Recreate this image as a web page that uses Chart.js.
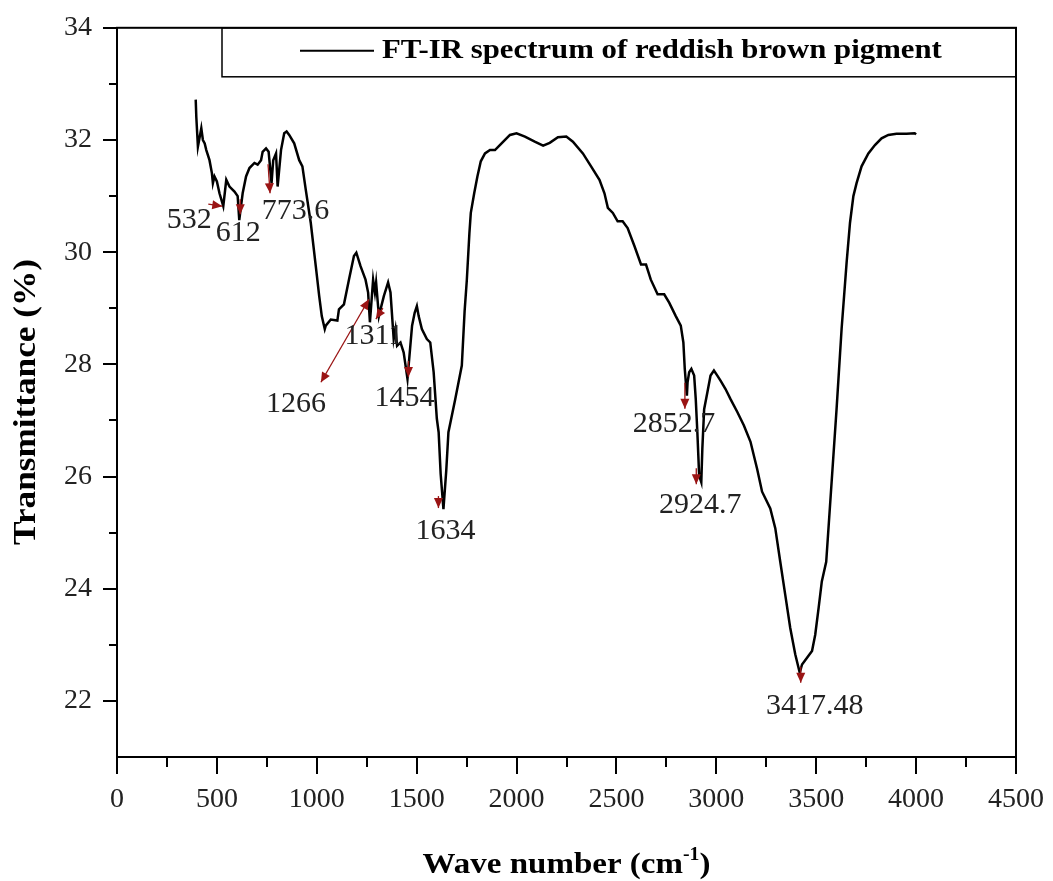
<!DOCTYPE html>
<html>
<head>
<meta charset="utf-8">
<title>FT-IR spectrum</title>
<script src="https://cdn.jsdelivr.net/npm/chart.js@4.4.1/dist/chart.umd.min.js"></script>
<style>
  html, body { margin: 0; padding: 0; background: #fff; }
  canvas { display: block; }
</style>
</head>
<body>
<canvas id="spectrum" width="1053" height="881"></canvas>
<script>
// Wave numbers (cm-1) of the recorded spectrum
const waveNumbers = [
  394, 397, 405, 422, 430, 439, 447, 463, 475, 480, 488, 500, 513, 532, 547, 563, 588, 604, 612, 629,
  646, 663, 688, 704, 721, 729, 746, 759, 773.6, 782, 796, 804, 821, 837, 849, 862, 887, 912, 928, 945,
  970, 995, 1012, 1025, 1040, 1045, 1070, 1103, 1111, 1136, 1161, 1186, 1198, 1219, 1244, 1257, 1266, 1282, 1291, 1297,
  1311, 1319, 1336, 1357, 1369, 1385, 1394, 1402, 1419, 1435, 1454, 1477, 1490, 1501, 1510, 1526, 1551, 1568, 1585, 1601,
  1610, 1620, 1634, 1648, 1659, 1693, 1726, 1740, 1751, 1764, 1771, 1788, 1804, 1821, 1842, 1867, 1892, 1925, 1967, 2000,
  2042, 2091, 2133, 2166, 2207, 2249, 2282, 2332, 2373, 2415, 2440, 2457, 2482, 2506, 2531, 2556, 2590, 2623, 2648, 2672,
  2706, 2739, 2764, 2797, 2822, 2835, 2842, 2852.7, 2856, 2864, 2875, 2889, 2897, 2905, 2914, 2924.7, 2930, 2939, 2955, 2971,
  2988, 3005, 3021, 3046, 3071, 3105, 3138, 3171, 3204, 3229, 3270, 3295, 3320, 3345, 3370, 3395, 3417.48, 3429, 3454, 3479,
  3495, 3512, 3528, 3550, 3602, 3627, 3652, 3669, 3686, 3702, 3727, 3761, 3794, 3827, 3861, 3902, 3952, 3993, 4000
];

// Transmittance (%) at each wave number
const transmittance = [
  32.72, 32.41, 31.88, 32.21, 32.00, 31.94, 31.82, 31.64, 31.41, 31.23, 31.35, 31.26, 31.05, 30.82, 31.29, 31.17, 31.08, 31.00, 30.57, 31.05,
  31.35, 31.50, 31.59, 31.56, 31.64, 31.79, 31.85, 31.79, 31.23, 31.64, 31.76, 31.17, 31.82, 32.12, 32.15, 32.09, 31.94, 31.64, 31.53, 31.11,
  30.52, 29.75, 29.22, 28.86, 28.63, 28.69, 28.80, 28.78, 28.98, 29.07, 29.51, 29.93, 29.99, 29.75, 29.51, 29.28, 28.75, 29.51, 29.28, 29.46,
  28.86, 28.98, 29.22, 29.46, 29.28, 28.45, 28.63, 28.33, 28.39, 28.21, 27.74, 28.69, 28.92, 29.04, 28.86, 28.63, 28.45, 28.39, 27.86, 27.03,
  26.79, 26.05, 25.42, 26.10, 26.79, 27.38, 27.98, 28.95, 29.50, 30.34, 30.70, 31.05, 31.35, 31.62, 31.76, 31.82, 31.82, 31.94, 32.09, 32.12,
  32.06, 31.97, 31.90, 31.95, 32.05, 32.06, 31.97, 31.76, 31.53, 31.29, 31.05, 30.79, 30.70, 30.55, 30.55, 30.43, 30.11, 29.78, 29.78, 29.51,
  29.25, 29.25, 29.10, 28.86, 28.69, 28.39, 27.92, 27.44, 27.68, 27.86, 27.92, 27.80, 27.38, 26.79, 26.02, 25.90, 26.50, 27.20, 27.50, 27.80,
  27.89, 27.80, 27.71, 27.56, 27.38, 27.15, 26.91, 26.62, 26.14, 25.73, 25.43, 25.08, 24.48, 23.89, 23.30, 22.83, 22.50, 22.65, 22.77, 22.89,
  23.18, 23.66, 24.13, 24.48, 27.21, 28.63, 29.81, 30.52, 31.00, 31.23, 31.53, 31.76, 31.91, 32.03, 32.09, 32.11, 32.11, 32.12, 32.10
];

// Labelled absorption bands
const peakWaveNumbers = [532, 612, 773.6, 1266, 1311, 1454, 1634, 2852.7, 2924.7, 3417.48];
const peakLabels = ['532', '612', '773.6', '1266', '1311', '1454', '1634', '2852.7', '2924.7', '3417.48'];

// Axis ticks
const xMajorTicks = [0, 500, 1000, 1500, 2000, 2500, 3000, 3500, 4000, 4500];
const xMinorTicks = [250, 750, 1250, 1750, 2250, 2750, 3250, 3750, 4250];
const yMajorTicks = [22, 24, 26, 28, 30, 32, 34];
const yMinorTicks = [23, 25, 27, 29, 31, 33];

const seriesName = 'FT-IR spectrum of reddish brown pigment';
const xTitle = 'Wave number (cm';
const xTitleSup = '-1';
const yTitle = 'Transmittance (%)';

// Callout placement for each band label, in pixels relative to the band point:
// text centre (dx, dy) and arrow segment [x1, y1, x2, y2]
const calloutLayout = [
  { dx: -34, dy: 14, arrow: [-15, -2, -1, 0], both: false },
  { dx: -1, dy: 13, arrow: [1, -21, 1, -6], both: false },
  { dx: 24, dy: 28, arrow: [-3.5, -19, -1.5, 10], both: false },
  { dx: -74, dy: 82, arrow: [-1, -23, -49, 60], both: true },
  { dx: -5, dy: 20, arrow: [4, -8, -3, 3], both: false },
  { dx: -3, dy: 19, arrow: [1, -18, 1, -2], both: false },
  { dx: 2, dy: 22, arrow: [-5, -13, -5, -1], both: false },
  { dx: -13, dy: 28, arrow: [-2, -13, -2, 13], both: false },
  { dx: -1, dy: 23, arrow: [-5, -14, -5, 2], both: false },
  { dx: 15, dy: 33, arrow: [1, -6, 1, 10], both: false }
];

const SERIF = '"Liberation Serif", "Times New Roman", serif';
const ARROW_RED = '#9a1414';

function drawHead(ctx, x1, y1, x2, y2, len, half) {
  const ang = Math.atan2(y2 - y1, x2 - x1);
  ctx.beginPath();
  ctx.moveTo(x2, y2);
  ctx.lineTo(x2 - len * Math.cos(ang) + half * Math.sin(ang), y2 - len * Math.sin(ang) - half * Math.cos(ang));
  ctx.lineTo(x2 - len * Math.cos(ang) - half * Math.sin(ang), y2 - len * Math.sin(ang) + half * Math.cos(ang));
  ctx.closePath();
  ctx.fill();
}

function stretchedText(ctx, text, x, y, sx) {
  ctx.save();
  ctx.translate(x, y);
  ctx.scale(sx, 1);
  ctx.fillText(text, 0, 0);
  ctx.restore();
}

const decorations = {
  id: 'decorations',
  afterDraw(chart) {
    const { ctx, chartArea: a } = chart;
    const xs = chart.scales.x, ys = chart.scales.y;
    ctx.save();

    // plot frame
    ctx.strokeStyle = '#000';
    ctx.lineWidth = 2;
    ctx.strokeRect(a.left, a.top, a.right - a.left, a.bottom - a.top);

    // minor ticks
    ctx.beginPath();
    for (const v of xMinorTicks) {
      const px = Math.round(xs.getPixelForValue(v));
      ctx.moveTo(px, a.bottom);
      ctx.lineTo(px, a.bottom + 10);
    }
    for (const v of yMinorTicks) {
      const py = Math.round(ys.getPixelForValue(v));
      ctx.moveTo(a.left, py);
      ctx.lineTo(a.left - 8, py);
    }
    ctx.stroke();

    // legend box
    const bx = a.left + 105, by = a.top, bw = a.right - bx, bh = 49;
    ctx.lineWidth = 1.5;
    ctx.strokeRect(bx, by, bw, bh);
    const ds = chart.data.datasets[0];
    ctx.strokeStyle = ds.borderColor;
    ctx.lineWidth = 2;
    ctx.beginPath();
    ctx.moveTo(bx + 78, by + 23);
    ctx.lineTo(bx + 152, by + 23);
    ctx.stroke();
    ctx.fillStyle = '#000';
    ctx.font = 'bold 28px ' + SERIF;
    ctx.textAlign = 'left';
    ctx.textBaseline = 'middle';
    stretchedText(ctx, ds.label, bx + 160, by + 23, 1.1);

    // axis titles
    ctx.font = 'bold 30px ' + SERIF;
    ctx.textBaseline = 'alphabetic';
    const sx = 1.1;
    const mainW = ctx.measureText(xTitle).width * sx;
    ctx.font = 'bold 18px ' + SERIF;
    const supW = ctx.measureText(xTitleSup).width * sx;
    ctx.font = 'bold 30px ' + SERIF;
    const closeW = ctx.measureText(')').width * sx;
    const total = mainW + supW + closeW;
    let tx = (a.left + a.right) / 2 - total / 2;
    const ty = 873;
    stretchedText(ctx, xTitle, tx, ty, sx);
    tx += mainW;
    ctx.font = 'bold 18px ' + SERIF;
    stretchedText(ctx, xTitleSup, tx, ty - 13, sx);
    tx += supW;
    ctx.font = 'bold 30px ' + SERIF;
    stretchedText(ctx, ')', tx, ty, sx);

    ctx.save();
    ctx.font = 'bold 32px ' + SERIF;
    ctx.translate(27, 402);
    ctx.rotate(-Math.PI / 2);
    ctx.textAlign = 'center';
    ctx.textBaseline = 'middle';
    stretchedText(ctx, yTitle, 0, 0, sx);
    ctx.restore();

    // band callouts
    ctx.font = '30px ' + SERIF;
    ctx.textAlign = 'center';
    ctx.textBaseline = 'middle';
    peakWaveNumbers.forEach((wn, i) => {
      const idx = waveNumbers.indexOf(wn);
      const px = xs.getPixelForValue(wn);
      const py = ys.getPixelForValue(transmittance[idx]);
      const c = calloutLayout[i];
      const [x1, y1, x2, y2] = c.arrow;
      ctx.strokeStyle = ARROW_RED;
      ctx.fillStyle = ARROW_RED;
      ctx.lineWidth = 1.3;
      ctx.beginPath();
      ctx.moveTo(px + x1, py + y1);
      ctx.lineTo(px + x2, py + y2);
      ctx.stroke();
      drawHead(ctx, px + x1, py + y1, px + x2, py + y2, 10, 4.5);
      if (c.both) drawHead(ctx, px + x2, py + y2, px + x1, py + y1, 10, 4.5);
      ctx.fillStyle = '#222';
      ctx.fillText(peakLabels[i], px + c.dx, py + c.dy);
    });

    ctx.restore();
  }
};

const points = waveNumbers.map((w, i) => ({ x: w, y: transmittance[i] }));

new Chart(document.getElementById('spectrum'), {
  type: 'line',
  data: {
    datasets: [{
      label: seriesName,
      data: points,
      borderColor: '#000',
      borderWidth: 2.5,
      pointRadius: 0,
      tension: 0,
      fill: false
    }]
  },
  options: {
    responsive: false,
    animation: false,
    layout: { padding: { top: 24, right: 33, left: 0, bottom: 0 } },
    plugins: { legend: { display: false }, tooltip: { enabled: false } },
    scales: {
      x: {
        type: 'linear',
        min: 0,
        max: 4500,
        afterBuildTicks: s => { s.ticks = xMajorTicks.map(v => ({ value: v })); },
        afterFit: s => { s.height = 124; },
        ticks: {
          color: '#222',
          font: { family: SERIF, size: 28 },
          padding: 9,
          maxRotation: 0,
          autoSkip: false,
          callback: v => String(v)
        },
        grid: { drawOnChartArea: false, drawTicks: true, tickLength: 17, color: '#000', lineWidth: 2 },
        border: { display: true, color: '#000', width: 2 }
      },
      y: {
        type: 'linear',
        min: 21,
        max: 34,
        afterBuildTicks: s => { s.ticks = yMajorTicks.map(v => ({ value: v })); },
        afterFit: s => { s.width = 117; },
        ticks: {
          color: '#222',
          font: { family: SERIF, size: 28 },
          padding: 11,
          autoSkip: false,
          callback: v => String(v)
        },
        grid: { drawOnChartArea: false, drawTicks: true, tickLength: 14, color: '#000', lineWidth: 2 },
        border: { display: true, color: '#000', width: 2 }
      }
    }
  },
  plugins: [decorations]
});
</script>
</body>
</html>
